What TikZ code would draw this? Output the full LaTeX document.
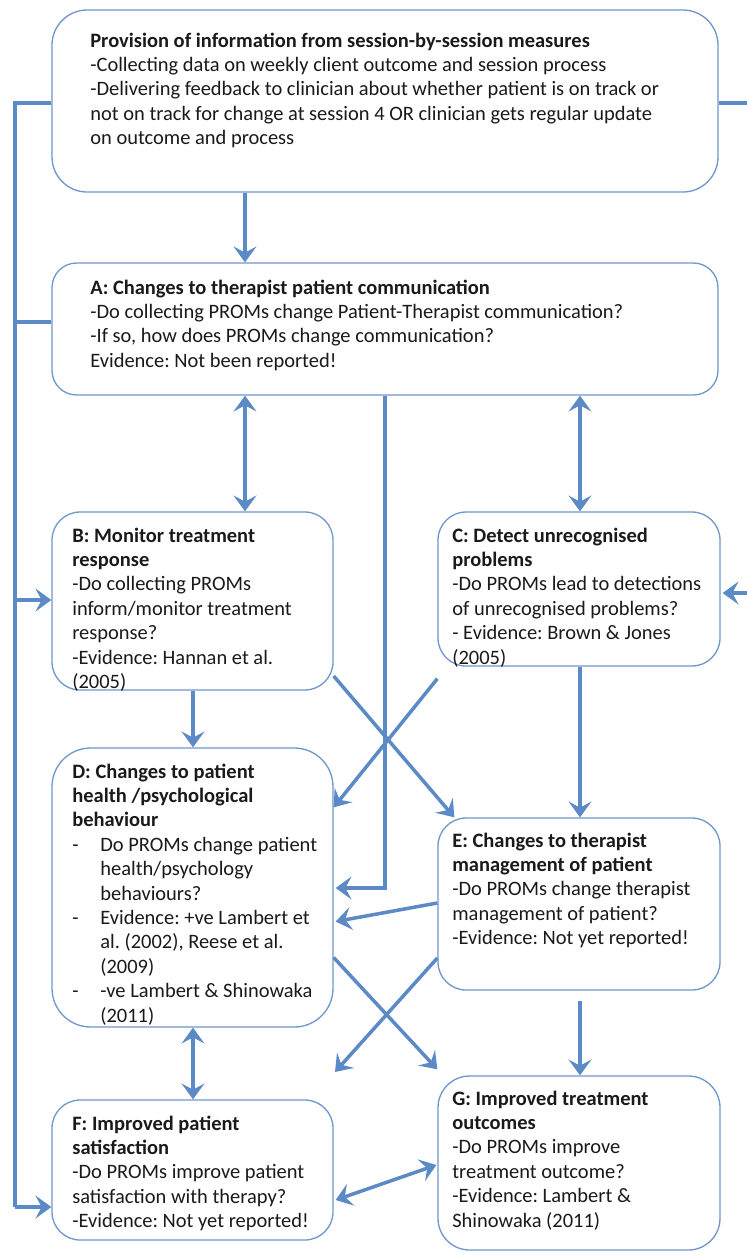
\documentclass[tikz,border=0pt]{standalone}
\usepackage{fontspec}
\setmainfont{Carlito}
\usetikzlibrary{arrows.meta,fit,calc}
\definecolor{boxline}{HTML}{6F97CB}
\definecolor{flowblue}{HTML}{5B8AC6}
\definecolor{ink}{HTML}{1A1A1A}
\frenchspacing
\newlength{\bul}
\setlength{\bul}{0.56cm}
\newcommand{\dash}{\makebox[\bul][l]{-}}
\newcommand{\hang}{\hspace*{\bul}}
\newcommand{\lines}[1]{\begin{tabular}[t]{@{}l@{}}#1\end{tabular}}
\begin{document}
\begin{tikzpicture}[x=0.02cm,y=-0.02cm,
  box/.style={draw=boxline, line width=0.75pt, rounded corners=#1, inner sep=0pt, fill=white},
  box/.default=16pt,
  txt/.style={anchor=base west, inner sep=0pt,
    font=\fontsize{11.65}{13.9}\selectfont, text=ink},
  head/.style={Stealth[length=9pt,width=13pt,inset=3.5pt]},
  flow/.style={draw=flowblue, line width=2pt, -{Stealth[length=9pt,width=13pt,inset=3.5pt]}},
  twoway/.style={flow, {Stealth[length=9pt,width=13pt,inset=3.5pt]}-{Stealth[length=9pt,width=13pt,inset=3.5pt]}},
  plain/.style={draw=flowblue, line width=2pt}]
\useasboundingbox (0,0) rectangle (747,1255);

% boxes
\node[box=20pt, fit={(52,10) (718,192)}] (top) {};
\node[box=14pt, fit={(52,263) (718,395)}] (A) {};
\node[box=16pt, fit={(52,512) (333,690)}] (B) {};
\node[box=16pt, fit={(438,512) (720,666)}] (C) {};
\node[box=22pt, fit={(52,748) (333,1027)}] (D) {};
\node[box=16pt, fit={(438,818) (720,990)}] (E) {};
\node[box=16pt, fit={(52,1100) (333,1240)}] (F) {};
\node[box=18pt, fit={(438,1076) (720,1250)}] (G) {};

% texts
\node[txt] (topT) at (90,47) {\lines{\textbf{Provision of information from session-by-session measures}\\
-Collecting data on weekly client outcome and session process\\
-Delivering feedback to clinician about whether patient is on track or\\
not on track for change at session 4 OR clinician gets regular update\\
on outcome and process}};
\node[txt] (AT) at (90,294) {\lines{\textbf{A: Changes to therapist patient communication}\\
-Do collecting PROMs change Patient-Therapist communication?\\
-If so, how does PROMs change communication?\\
Evidence: Not been reported!}};
\node[txt] (BT) at (72,542) {\lines{\textbf{B: Monitor treatment}\\
\textbf{response}\\
-Do collecting PROMs\\
inform/monitor treatment\\
response?\\
-Evidence: Hannan et al.\\
(2005)}};
\node[txt] (CT) at (452,542) {\lines{\textbf{C: Detect unrecognised}\\
\textbf{problems}\\
-Do PROMs lead to detections\\
of unrecognised problems?\\
- Evidence: Brown \& Jones\\
(2005)}};
\node[txt] (DT) at (72,778) {\lines{\textbf{D: Changes to patient}\\
\textbf{health /psychological}\\
\textbf{behaviour}\\
\dash Do PROMs change patient\\
\hang health/psychology\\
\hang behaviours?\\
\dash Evidence: +ve Lambert et\\
\hang al. (2002), Reese et al.\\
\hang (2009)\\
\dash -ve Lambert \& Shinowaka\\
\hang (2011)}};
\node[txt] (ET) at (452,847) {\lines{\textbf{E: Changes to therapist}\\
\textbf{management of patient}\\
-Do PROMs change therapist\\
management of patient?\\
-Evidence: Not yet reported!}};
\node[txt] (FT) at (72,1130) {\lines{\textbf{F: Improved patient}\\
\textbf{satisfaction}\\
-Do PROMs improve patient\\
satisfaction with therapy?\\
-Evidence: Not yet reported!}};
\node[txt] (GT) at (452,1105) {\lines{\textbf{G: Improved treatment}\\
\textbf{outcomes}\\
-Do PROMs improve\\
treatment outcome?\\
-Evidence: Lambert \&\\
Shinowaka (2011)}};

% guide coordinates for the connector routes
\coordinate (colL) at (15,0);
\coordinate (colR) at (760,0);
\coordinate (colAB) at (245,0);
\coordinate (colBD) at (193,0);
\coordinate (colAC) at (580,0);
\coordinate (colMid) at (385,0);
\coordinate (rowTop) at (0,103);
\coordinate (rowA) at (0,322);
\coordinate (rowB) at (0,600);
\coordinate (rowC) at (0,593);
\coordinate (rowD) at (0,888);
\coordinate (rowF) at (0,1207);
\coordinate (Fcorner) at (335,1072);

% left feedback line
\draw[plain] (top.west |- rowTop) -- (colL |- rowTop) -- (colL |- rowF);
\draw[plain] (colL |- rowA) -- (A.west |- rowA);
\draw[flow] (colL |- rowB) -- (B.west |- rowB);
\draw[flow] (colL |- rowF) -- (F.west |- rowF);

% right feedback line
\draw[flow] (top.east |- rowTop) -- (colR |- rowTop) -- (colR |- rowC) -- ($(C.east |- rowC)+(2,0)$);

% vertical links
\draw[flow] (top.south -| colAB) -- (A.north -| colAB);
\draw[twoway] (A.south -| colAB) -- (B.north -| colAB);
\draw[twoway] (A.south -| colAC) -- (C.north -| colAC);
\draw[flow] (A.south -| colMid) -- (colMid |- rowD) -- ($(D.east |- rowD)+(2,0)$);
\draw[flow] (B.south -| colBD) -- (D.north -| colBD);
\draw[flow] (C.south -| colAC) -- (E.north -| colAC);
\draw[flow] ($(E.south -| colAC)+(0,10)$) -- (G.north -| colAC);
\draw[twoway] (D.south -| colBD) -- (F.north -| colBD);

% diagonal links
\draw[flow] ($(B.east)+(0,75)$) -- ($(E.north west)+(17,0)$);
\draw[flow] ($(C.south west)+(0,12)$) -- ($(D.north east)+(0,60)$);
\draw[flow] ($(E.west)+(0,-1)$) -- ($(D.east)+(2,34)$);
\draw[flow] ($(D.east)+(0,70)$) -- ($(G.north west)+(0,-6)$);
\draw[flow] ($(E.west)+(0,54)$) -- (Fcorner);
\draw[twoway] ($(F.east)+(2,30)$) -- ($(G.west)+(-1,2)$);
\end{tikzpicture}
\end{document}
